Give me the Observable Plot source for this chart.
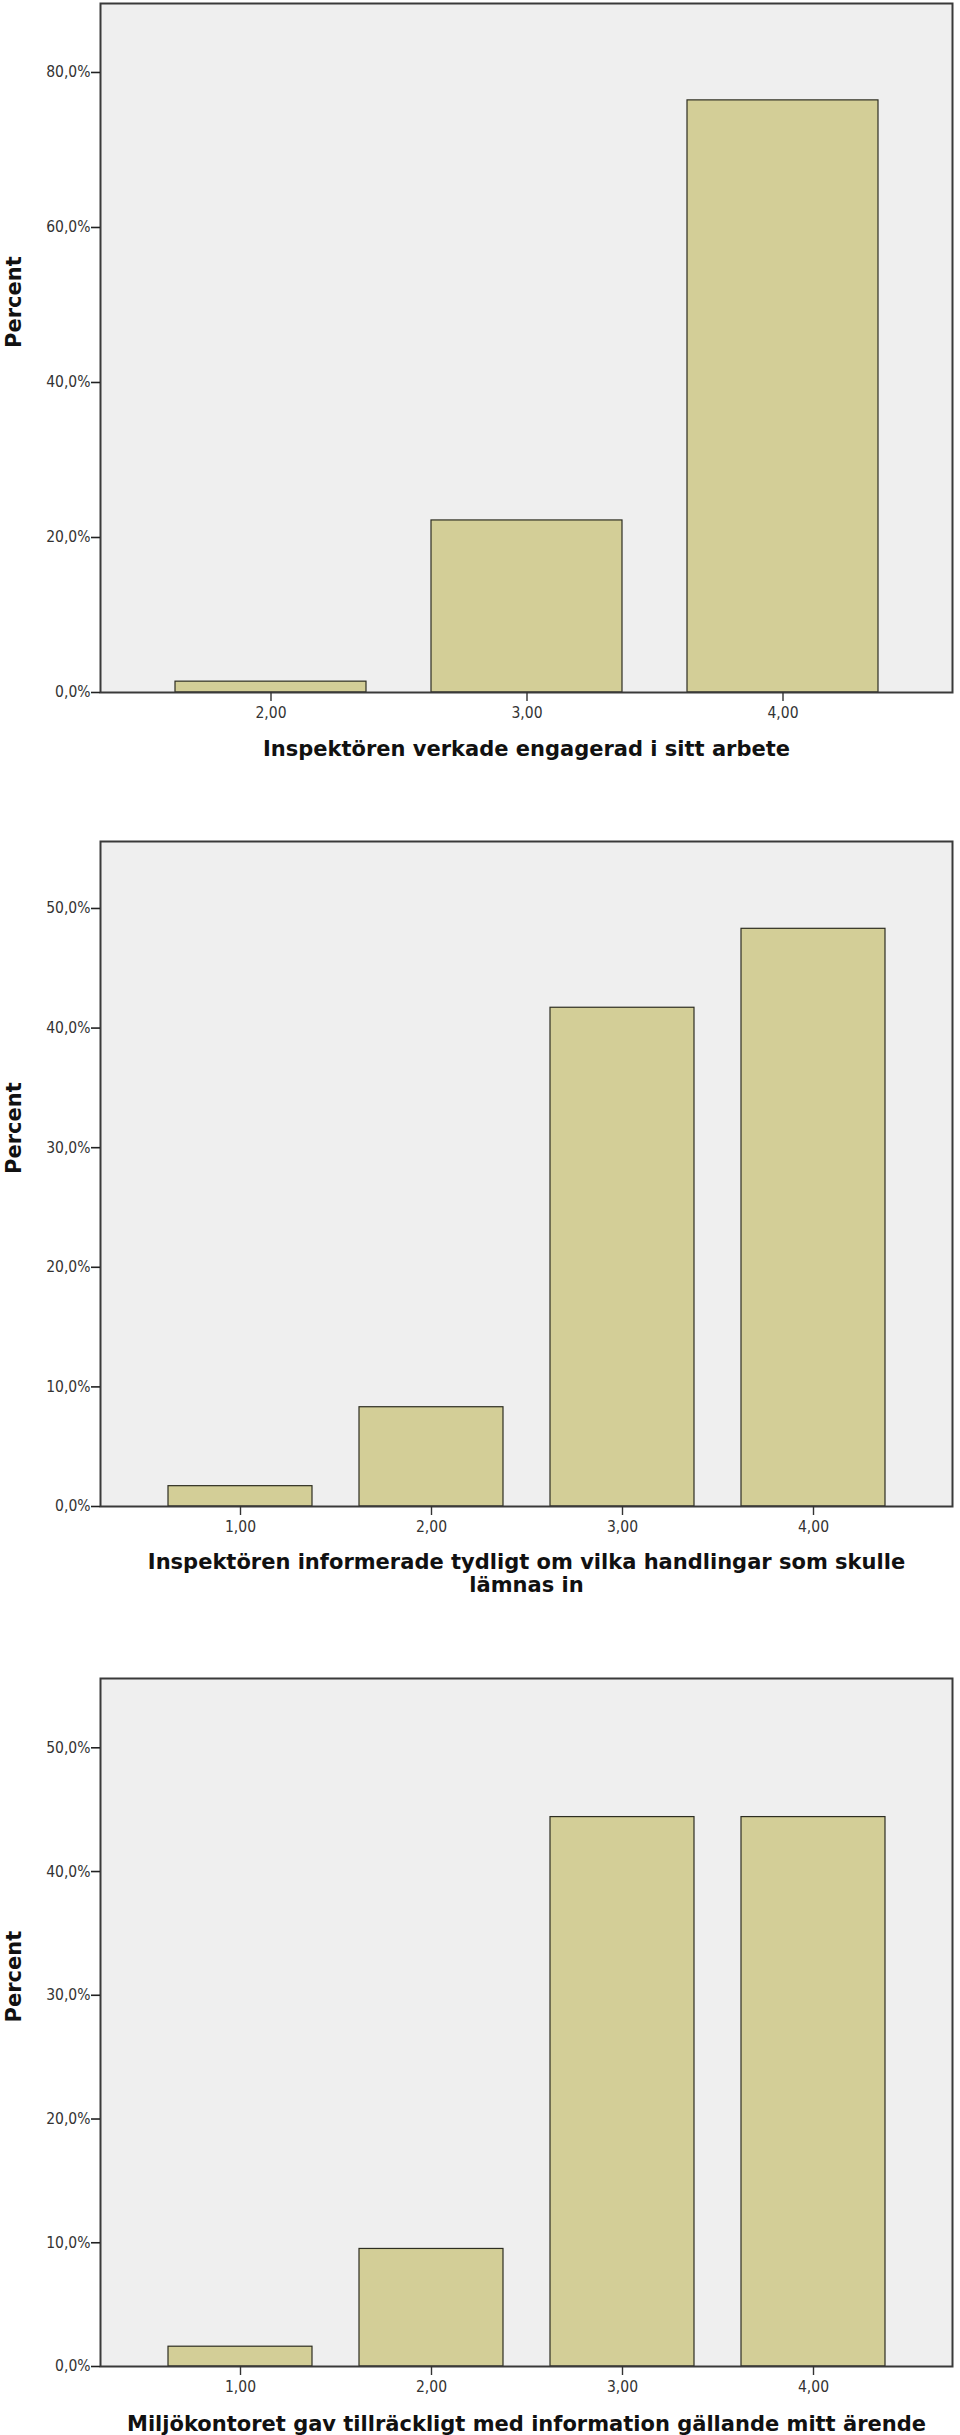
<!DOCTYPE html>
<html><head><meta charset="utf-8">
<script src="https://cdn.jsdelivr.net/npm/d3@7"></script>
<script src="https://cdn.jsdelivr.net/npm/@observablehq/plot@0.6"></script>
<style>
body{margin:0;background:#fff}
svg{display:block}
</style>
</head><body><div id="c"></div>
<script>
const yLabel = "Percent";

const cats1 = ["2,00","3,00","4,00"];
const vals1 = [1.4, 22.2, 76.4];
const yTicks1 = [0,20,40,60,80];
const title1 = "Inspektören verkade engagerad i sitt arbete";

const cats2 = ["1,00","2,00","3,00","4,00"];
const vals2 = [1.7, 8.3, 41.7, 48.3];
const yTicks2 = [0,10,20,30,40,50];
const title2 = "Inspektören informerade tydligt om vilka handlingar som skulle\nlämnas in";

const cats3 = ["1,00","2,00","3,00","4,00"];
const vals3 = [1.6, 9.5, 44.4, 44.4];
const yTicks3 = [0,10,20,30,40,50];
const title3 = "Miljökontoret gav tillräckligt med information gällande mitt ärende";

const tickFont = "'DejaVu Sans Condensed','Liberation Sans Narrow','DejaVu Sans',sans-serif";
const titleFont = "'DejaVu Sans',Verdana,sans-serif";
const fmt = d => d.toFixed(1).replace(".", ",") + "%";

function chart(cats, vals, yTicks, title, o) {
  const data = cats.map((c, i) => ({cat: c, v: vals[i]}));
  return Plot.plot({
    width: 960, height: o.height,
    marginTop: o.mt, marginBottom: o.mb, marginLeft: 100, marginRight: 8,
    style: {fontFamily: tickFont, color: "#333", background: "#fff"},
    x: {type: "band", domain: cats, paddingInner: o.pi, paddingOuter: o.po, axis: null},
    y: {domain: [0, o.yMax], axis: null},
    marks: [
      Plot.frame({fill: "#efefef", stroke: null}),
      Plot.barY(data, {x: "cat", y: "v", fill: "#d3ce97", stroke: "#2e2e22", strokeWidth: 1.2}),
      Plot.frame({stroke: "#3a3a3a", strokeWidth: 2}),
      Plot.axisY({ticks: yTicks, tickFormat: fmt, tickSize: 9, tickPadding: 1, fontSize: 15.5, stroke: "#222", strokeWidth: 1.6, label: null, fill: "#333"}),
      Plot.axisX({tickSize: 9, tickPadding: 5, fontSize: 15.5, stroke: "#333", strokeWidth: 1.4, label: null, fill: "#333"}),
      Plot.text([yLabel], {frameAnchor: "left", rotate: -90, dx: -86, fontWeight: "bold", fontSize: 21, fontFamily: titleFont, fill: "#111"}),
      Plot.text([title], {frameAnchor: "bottom", lineAnchor: "middle", dy: o.tdy, fontWeight: "bold", fontSize: 21, fontFamily: titleFont, fill: "#111", lineHeight: 1.1})
    ]
  });
}

const root = document.getElementById("c");
root.append(chart(cats1, vals1, yTicks1, title1, {height: 800, mt: 3, mb: 108, yMax: 88.9, pi: 0.254, po: 0.291, tdy: 56}));
root.append(chart(cats2, vals2, yTicks2, title2, {height: 840, mt: 41, mb: 134, yMax: 55.6, pi: 0.247, po: 0.35, tdy: 67}));
root.append(chart(cats3, vals3, yTicks3, title3, {height: 795, mt: 38, mb: 69, yMax: 55.6, pi: 0.247, po: 0.35, tdy: 57}));
</script>
</body></html>
